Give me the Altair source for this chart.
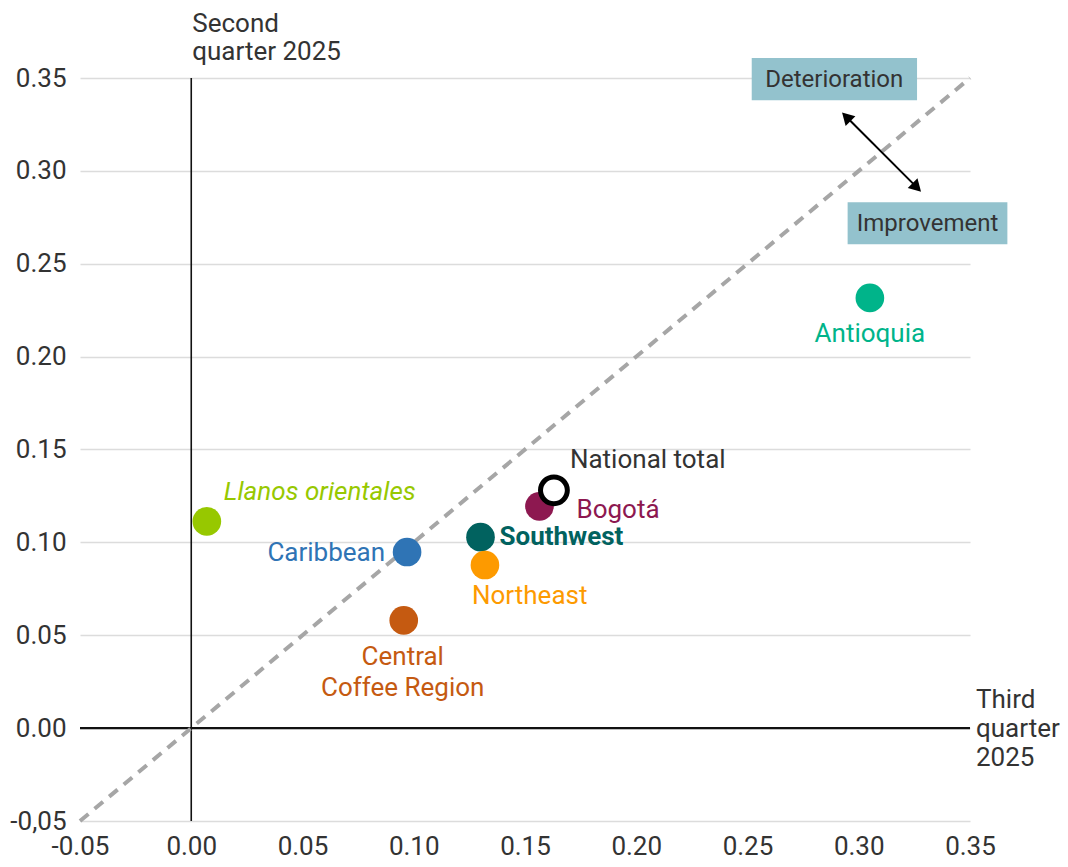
import altair as alt
import pandas as pd

# ---------------- data ----------------
regions = ["Antioquia", "Llanos orientales", "Caribbean", "Central Coffee Region",
           "Southwest", "Northeast", "Bogotá", "National total"]
third_quarter = [0.305, 0.007, 0.097, 0.0955, 0.130, 0.132, 0.1565, 0.163]
second_quarter = [0.2316, 0.1113, 0.0948, 0.058, 0.1028, 0.0878, 0.1194, 0.128]
colors = ["#00b48a", "#97c800", "#2f74b5", "#c55a11", "#01625f", "#fd9a00", "#8d1850", "#000000"]

tick_values = [-0.05, 0.0, 0.05, 0.10, 0.15, 0.20, 0.25, 0.30, 0.35]
x_tick_labels = ["-0.05", "0.00", "0.05", "0.10", "0.15", "0.20", "0.25", "0.30", "0.35"]
y_tick_labels = ["-0,05", "0.00", "0.05", "0.10", "0.15", "0.20", "0.25", "0.30", "0.35"]
x_title = ["Third", "quarter", "2025"]
y_title = ["Second", "quarter 2025"]
domain = [-0.05, 0.35]

FONT = "Roboto"
TXT = "#333333"
FS = 26

df = pd.DataFrame({"region": regions, "x": third_quarter, "y": second_quarter, "color": colors})


def lbl_expr(labels):
    arr = "[" + ",".join(f"'{l}'" for l in labels) + "]"
    return f"{arr}[round((datum.value + 0.05) / 0.05)]"


xscale = alt.Scale(domain=domain, nice=False, zero=False)
yscale = alt.Scale(domain=domain, nice=False, zero=False)

xaxis = alt.Axis(values=tick_values, labelExpr=lbl_expr(x_tick_labels), grid=False,
                 domain=False, ticks=False, labelPadding=12, labelFontSize=FS,
                 labelFont=FONT, labelColor=TXT, labelFlush=False, labelOverlap=False,
                 labelBound=False)
yaxis = alt.Axis(values=tick_values, labelExpr=lbl_expr(y_tick_labels), grid=True,
                 gridColor="#dcdcdc", gridWidth=1.5, domain=False, ticks=False,
                 labelPadding=14, labelFontSize=FS, labelFont=FONT, labelColor=TXT,
                 labelFlush=False, labelOverlap=False, labelBound=False)


def X(f="x"):
    return alt.X(f"{f}:Q", scale=xscale, axis=xaxis, title=None)


def Y(f="y"):
    return alt.Y(f"{f}:Q", scale=yscale, axis=yaxis, title=None)


def one(**kw):
    return pd.DataFrame({k: [v] for k, v in kw.items()})


base = alt.Chart(df)

# reference line (45 degrees) across the domain
diag = alt.Chart(pd.DataFrame({"x": domain, "y": domain})).mark_line(
    color="#a6a6a6", strokeWidth=4, strokeDash=[11, 8]).encode(x=X(), y=Y())

zero_h = alt.Chart(one(y=0.0)).mark_rule(color="#111111", strokeWidth=2.2).encode(y=Y())
zero_v = alt.Chart(one(x=0.0)).mark_rule(color="#111111", strokeWidth=1.6).encode(x=X())

# annotation boxes
box_fill = "#93c2cd"
boxes = alt.Chart(pd.DataFrame({
    "x": [0.2519, 0.295], "x2": [0.3262, 0.3668],
    "y": [0.3608, 0.2831], "y2": [0.338, 0.2605],
    "tx": [0.289, 0.3309], "ty": [0.3494, 0.2718],
    "label": ["Deterioration", "Improvement"]}))
box_rects = boxes.mark_rect(color=box_fill).encode(
    x=X(), x2="x2:Q", y=Y(), y2="y2:Q")
box_txt = boxes.mark_text(font=FONT, fontSize=24, color=TXT, align="center",
                          baseline="middle", dy=1).encode(x=X("tx"), y=Y("ty"), text="label:N")

# double arrow
arrow_line = alt.Chart(one(x=0.2944, y=0.3291, x2=0.3261, y2=0.2911)).mark_rule(
    color="black", strokeWidth=2).encode(x=X(), y=Y(), x2="x2:Q", y2="y2:Q")
head_end = alt.Chart(one(x=0.3261, y=0.2911)).mark_point(
    shape="triangle-up", filled=True, color="black", size=190, angle=135, opacity=1).encode(x=X(), y=Y())
head_start = alt.Chart(one(x=0.2944, y=0.3291)).mark_point(
    shape="triangle-up", filled=True, color="black", size=190, angle=315, opacity=1).encode(x=X(), y=Y())

# points
pts = base.transform_filter("datum.region != 'National total'").mark_circle(size=820, opacity=1).encode(
    x=X(), y=Y(), color=alt.Color("color:N", scale=None))
nat = base.transform_filter("datum.region == 'National total'").mark_point(
    shape="circle", filled=False, fill="white", stroke="black", strokeWidth=5, size=720,
    opacity=1, fillOpacity=1).encode(x=X(), y=Y())

# labels
label_styles = {
    "Antioquia": dict(align="center", dx=0, dy=36),
    "Llanos orientales": dict(align="left", dx=17, dy=-29, fontStyle="italic"),
    "Caribbean": dict(align="right", dx=-22, dy=1),
    "Southwest": dict(align="left", dx=19, dy=0, fontWeight="bold"),
    "Northeast": dict(align="left", dx=-13, dy=31),
    "Bogotá": dict(align="left", dx=37, dy=4),
    "National total": dict(align="left", dx=16, dy=-30, color=TXT),
}
label_layers = []
for i, r in enumerate(regions):
    if r == "Central Coffee Region":
        continue
    st = dict(label_styles[r])
    col = st.pop("color", colors[i])
    label_layers.append(
        base.transform_filter(f"datum.region == '{r}'").mark_text(
            font=FONT, fontSize=FS, baseline="middle", color=col, **st).encode(
            x=X(), y=Y(), text="region:N"))

ccr_i = regions.index("Central Coffee Region")
ccr = base.transform_filter("datum.region == 'Central Coffee Region'").transform_calculate(
    lbl="replace(datum.region, 'Central ', 'Central|')").mark_text(
    font=FONT, fontSize=FS, baseline="top", align="center", lineBreak="|", lineHeight=31,
    color=colors[ccr_i], dx=-1, dy=24).encode(x=X(), y=Y(), text="lbl:N")

# axis titles
ytitle = alt.Chart(one(x=0.0, y=0.35)).mark_text(
    text=y_title, font=FONT, fontSize=FS, color=TXT, align="left",
    baseline="top", lineHeight=28, dx=1, dy=-67).encode(x=X(), y=Y())
xtitle = alt.Chart(one(x=0.35, y=0.0)).mark_text(
    text=x_title, font=FONT, fontSize=FS, color=TXT, align="left",
    baseline="top", lineHeight=29, dx=6, dy=-41).encode(x=X(), y=Y())

chart = alt.layer(
    zero_h, zero_v, diag, box_rects, box_txt,
    arrow_line, head_end, head_start, pts, nat, *label_layers, ccr, ytitle, xtitle
).properties(
    width=890, height=743,
    autosize=alt.AutoSizeParams(type="none"),
    padding={"left": 72, "top": 70, "right": 90, "bottom": 38},
    background="white",
).configure_view(stroke=None)

chart.save("out.html", embed_options={"renderer": "svg", "actions": False})
